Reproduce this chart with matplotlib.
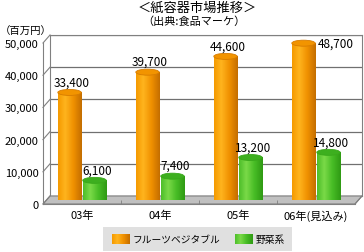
import numpy as np
import matplotlib
matplotlib.use("Agg")
import matplotlib.pyplot as plt
from matplotlib.patches import Rectangle, Ellipse, Polygon
from matplotlib.lines import Line2D
from matplotlib.colors import LinearSegmentedColormap

plt.rcParams['font.family'] = ['Noto Sans CJK JP', 'DejaVu Sans']

# data
years = ['03年', '04年', '05年', '06年(見込み)']
fruit_veg = [33400, 39700, 44600, 48700]
vegetable = [6100, 7400, 13200, 14800]
series_names = ['フルーツベジタブル', '野菜系']
yticks = [0, 10000, 20000, 30000, 40000, 50000]
title = '＜紙容器市場推移＞'
subtitle = '（出典:食品マーケ）'
unit = '（百万円）'

W, H = 364, 253
fig = plt.figure(figsize=(W / 100, H / 100), dpi=100)


def px(x, ytop, w, h):
    return [x / W, 1 - (ytop + h) / H, w / W, h / H]


DX, DY = 7, 8  # depth offset in pixels
front = [43, 44, 312, 161]

ax_back = fig.add_axes(px(front[0] + DX, front[1] - DY, front[2], front[3]), zorder=0)
ax_mid = fig.add_axes(px(front[0] + DX / 2, front[1] - DY / 2, front[2], front[3]), zorder=3)
ax = fig.add_axes(px(*front), zorder=4)

YMAX = 50000
for a in (ax_back, ax_mid, ax):
    a.set_xlim(-0.5, len(years) - 0.5)
    a.set_ylim(0, YMAX)

# back wall
ax_back.set_facecolor('white')
for s in ax_back.spines.values():
    s.set_color('#808080')
ax_back.set_xticks([])
ax_back.set_yticks(yticks)
ax_back.tick_params(length=0, labelleft=False)
ax_back.grid(axis='y', color='#707070', lw=0.9)

# floor + side-wall lines in figure coords
fb = ax.get_position()
bb = ax_back.get_position()
floor = Polygon([(fb.x0, fb.y0), (fb.x1, fb.y0), (bb.x1, bb.y0), (bb.x0, bb.y0)],
                closed=True, transform=fig.transFigure, facecolor='#C0C0C0',
                edgecolor='#808080', lw=0.8, zorder=1)
fig.patches.append(floor)
for v in yticks:
    yf = fb.y0 + fb.height * v / YMAX
    yb = bb.y0 + bb.height * v / YMAX
    fig.lines.append(Line2D([fb.x0, bb.x0], [yf, yb], transform=fig.transFigure,
                            color='#808080', lw=0.8, zorder=2))
fig.lines.append(Line2D([fb.x1, bb.x1], [fb.y0, bb.y0], transform=fig.transFigure,
                        color='#808080', lw=0.8, zorder=2))

# front axis
ax.patch.set_alpha(0)
for k in ('top', 'right'):
    ax.spines[k].set_visible(False)
ax.spines['left'].set_color('#808080')
ax.spines['bottom'].set_color('#808080')
ax.set_yticks(yticks)
ax.set_yticklabels([f'{v:,}' for v in yticks], fontsize=8)
ax.tick_params(axis='y', length=0, pad=3)
ax.set_xticks(range(len(years)))
ax.set_xticklabels(years, fontsize=8)
ax.tick_params(axis='x', length=0, pad=4)
ax.set_xticks(np.arange(len(years) - 1) + 0.5, minor=True)
ax.tick_params(axis='x', which='minor', direction='in', length=3, color='#808080')

# cylinders
ax_mid.axis('off')
orange_cmap = LinearSegmentedColormap.from_list(
    'o', [(0, '#F59A00'), (0.3, '#FFB41E'), (0.65, '#F09000'), (1, '#C46E00')])
green_cmap = LinearSegmentedColormap.from_list(
    'g', [(0, '#4DBE2A'), (0.3, '#7ADA48'), (0.65, '#47BC25'), (1, '#2F9A14')])
grad = np.linspace(0, 1, 64).reshape(1, -1)

px_to_val = YMAX / front[3]
eh = 6 * px_to_val
bw = 0.30
offsets = [-0.205, 0.115]
tops = ['#F29400', '#3DAF1F']


def cylinder(a, x, v, cmap, top_color):
    x0 = x - bw / 2
    body = Rectangle((x0, 0), bw, v, facecolor='none', edgecolor='none')
    bottom = Ellipse((x, 0), bw, eh, facecolor='none', edgecolor='none')
    a.add_patch(body)
    a.add_patch(bottom)
    for clip in (body, bottom):
        im = a.imshow(grad, extent=[x0, x0 + bw, -eh, v], aspect='auto', cmap=cmap,
                      interpolation='bilinear', zorder=2)
        im.set_clip_path(clip)
    a.add_patch(Ellipse((x, v), bw, eh, facecolor=top_color,
                        edgecolor=cmap(0.85), lw=0.6, zorder=3))


for i in range(len(years)):
    for vals, off, cm, tc in ((fruit_veg, offsets[0], orange_cmap, tops[0]),
                              (vegetable, offsets[1], green_cmap, tops[1])):
        cylinder(ax_mid, i + off, vals[i], cm, tc)
ax_mid.set_xlim(-0.5, len(years) - 0.5)
ax_mid.set_ylim(0, YMAX)

# value labels
for i in range(len(years)):
    for vals, off in ((fruit_veg, offsets[0]), (vegetable, offsets[1])):
        v = vals[i]
        if v + 12 * px_to_val > YMAX:
            ax_mid.annotate(f'{v:,}', (i + off + bw / 2, v), xytext=(2, 0),
                            textcoords='offset points', ha='left', va='center',
                            fontsize=8.5, zorder=5, annotation_clip=False)
        else:
            ax_mid.annotate(f'{v:,}', (i + off + 0.03, v), xytext=(0, 3),
                            textcoords='offset points', ha='center', va='bottom',
                            fontsize=8.5, zorder=5, annotation_clip=False)

# titles
fig.text(197 / W, 1 - 8 / H, title, ha='center', va='center', fontsize=9.5)
fig.text(194 / W, 1 - 22 / H, subtitle, ha='center', va='center', fontsize=8)
fig.text(0, 1 - 32 / H, unit, ha='left', va='center', fontsize=7.5)

# legend
lg = fig.add_axes(px(103, 228, 189, 24), zorder=5)
lg.set_facecolor('#E0E0E0')
for s in lg.spines.values():
    s.set_visible(False)
lg.set_xticks([])
lg.set_yticks([])
lg.set_xlim(0, 189)
lg.set_ylim(0, 24)
for x0, cm, name in ((9, orange_cmap, series_names[0]), (132, green_cmap, series_names[1])):
    lg.imshow(grad, extent=[x0, x0 + 18, 7, 17], aspect='auto', cmap=cm)
    lg.text(x0 + 21, 12, name, ha='left', va='center', fontsize=7)
lg.set_xlim(0, 189)
lg.set_ylim(0, 24)

fig.savefig('out.png', dpi=100)
